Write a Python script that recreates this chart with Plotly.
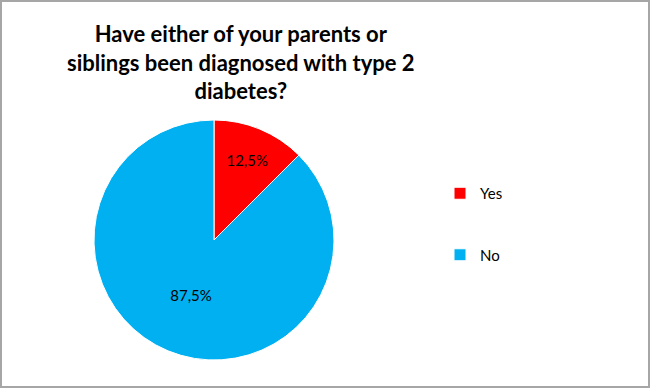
import plotly.graph_objects as go

categories = ["Yes", "No"]
values = [12.5, 87.5]
colors = ["#FF0000", "#00B0F0"]
title_lines = ["Have either of your parents or", "siblings been diagnosed with type 2", "diabetes?"]

legend_labels = [c + "<br> <br> " for c in categories]

fig = go.Figure(go.Pie(
    labels=legend_labels,
    values=values,
    sort=False,
    direction="clockwise",
    rotation=0,
    marker=dict(colors=colors, line=dict(color="white", width=1)),
    texttemplate="%{percent:.1%}",
    textposition="inside",
    insidetextorientation="horizontal",
    textfont=dict(color="black", size=15, family="Lato, sans-serif"),
    domain=dict(x=[94/650, 334/650], y=[28/388, 268/388]),
    hoverinfo="label+percent",
))

fig.update_layout(
    width=650, height=388,
    margin=dict(l=0, r=0, t=0, b=0),
    paper_bgcolor="white",
    separators=",.",
    font=dict(family="Lato, sans-serif", color="black"),
    showlegend=True,
    legend=dict(x=440/650, y=1 - 177/388, xanchor="left", yanchor="top",
                font=dict(size=15, color="black"), valign="top",
                itemwidth=30, bgcolor="rgba(0,0,0,0)"),
    annotations=[dict(text="<b>" + "<br>".join(title_lines) + "</b>",
                      x=241/650, y=1 - 18/388, xref="paper", yref="paper",
                      xanchor="center", yanchor="top", showarrow=False,
                      font=dict(size=22, family="Lato, sans-serif", color="black"))],
    shapes=[dict(type="rect", xref="paper", yref="paper",
                 x0=1/650, y0=1/388, x1=1 - 1/650, y1=1 - 1/388,
                 line=dict(color="#A6A6A6", width=2))],
)

fig.write_html("out.html", config={"displayModeBar": False},
               post_script="document.body.style.margin='0';document.body.style.overflow='hidden';")
